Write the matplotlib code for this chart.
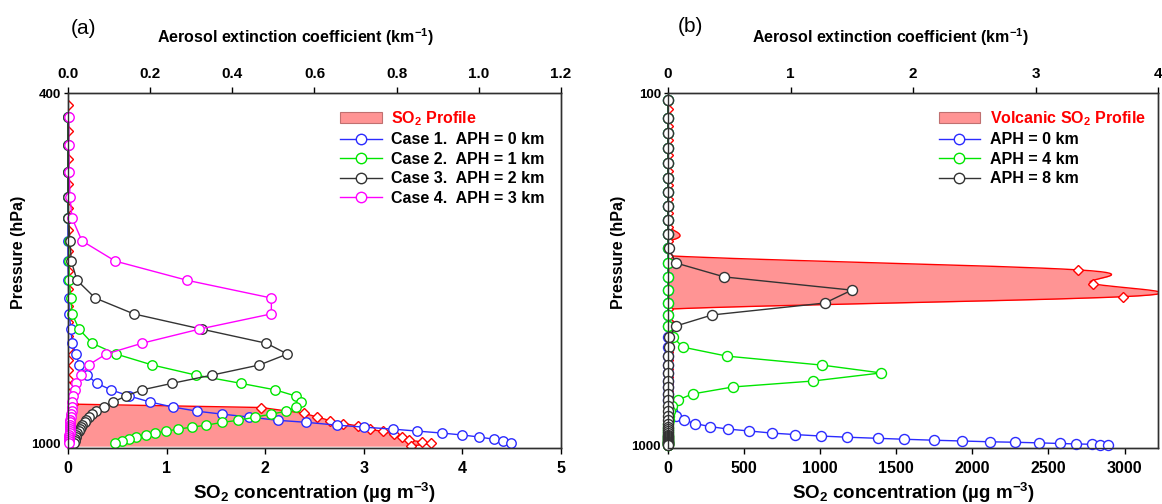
import numpy as np
import matplotlib
matplotlib.use('Agg')
import matplotlib.pyplot as plt
from matplotlib.patches import Patch
from matplotlib.lines import Line2D
from matplotlib.ticker import NullLocator, FormatStrFormatter

plt.rcParams['font.family'] = ['Liberation Sans', 'DejaVu Sans']
plt.rcParams['font.weight'] = 'bold'
plt.rcParams['axes.labelweight'] = 'bold'
plt.rcParams['mathtext.default'] = 'regular'

# ---- panel (a): aerosol extinction (km-1) on model levels (hPa)
p_aer_a = [426, 458, 492, 525, 555, 589, 621, 653, 684, 713, 742, 770, 792, 815, 837,
           855, 870, 884, 898, 910, 920, 927, 934, 942, 947, 954, 959, 964, 969, 974,
           979, 984, 990, 995, 1000]
case1 = [0, 0, 0, 0, 0, 0, 0, 0.001, 0.002, 0.003, 0.007, 0.010, 0.020, 0.027, 0.046,
         0.070, 0.105, 0.149, 0.200, 0.256, 0.315, 0.376, 0.441, 0.510, 0.580, 0.654,
         0.720, 0.790, 0.850, 0.910, 0.960, 1.000, 1.037, 1.060, 1.078]
case2 = [0, 0, 0, 0, 0.001, 0.002, 0.002, 0.003, 0.007, 0.010, 0.027, 0.059, 0.117,
         0.205, 0.312, 0.420, 0.505, 0.554, 0.568, 0.556, 0.530, 0.495, 0.456, 0.415,
         0.376, 0.337, 0.302, 0.268, 0.239, 0.212, 0.190, 0.166, 0.149, 0.132, 0.115]
case3 = [0, 0, 0, 0, 0.001, 0.005, 0.008, 0.022, 0.066, 0.160, 0.325, 0.483, 0.534,
         0.466, 0.350, 0.254, 0.180, 0.141, 0.110, 0.088, 0.068, 0.058, 0.051, 0.044,
         0.041, 0.034, 0.032, 0.029, 0.027, 0.022, 0.020, 0.019, 0.017, 0.017, 0.015]
case4 = [0.002, 0.002, 0.003, 0.005, 0.010, 0.034, 0.115, 0.290, 0.495, 0.495, 0.320,
         0.180, 0.093, 0.050, 0.032, 0.020, 0.016, 0.013, 0.011, 0.010, 0.009, 0.008,
         0.007, 0.006, 0.006, 0.005, 0.005, 0.004, 0.004, 0.004, 0.003, 0.003, 0.003,
         0.003, 0.003]

# SO2 profile (ug m-3), layer centres
p_so2_a = [413, 442, 475, 508, 540, 572, 605, 637, 668, 699, 728, 756, 781, 804, 826,
           846, 862, 877, 891, 903, 911, 925, 934, 943, 950, 956, 964, 970, 977, 984,
           992, 997, 1000, 1008]
so2_a = [0, 0, 0, 0, 0, 0, 0, 0, 0, 0, 0, 0, 0, 0, 0, 0, 0, 0, 0,
         0.05, 1.96, 2.39, 2.53, 2.66, 2.79, 2.94, 3.06, 3.19, 3.31, 3.39, 3.46,
         3.59, 3.68, 3.48]

# ---- panel (b)
p_aer_b = [105, 118, 130, 143, 158, 174, 191, 209, 229, 252, 276, 304, 333, 363, 395,
           427, 459, 493, 527, 559, 593, 624, 658, 684, 716, 745, 775, 801, 827, 849,
           869, 886, 901, 912, 925, 934, 943, 950, 957, 963, 969, 974, 979, 982, 986,
           990, 993, 995, 998, 1000]
aph0 = [0, 0, 0, 0, 0, 0, 0, 0, 0, 0, 0, 0, 0, 0, 0, 0, 0, 0, 0, 0, 0, 0, 0, 0, 0, 0,
        0.015, 0.030, 0.065, 0.13, 0.22, 0.34, 0.49, 0.66, 0.85, 1.04, 1.25, 1.46,
        1.71, 1.93, 2.17, 2.40, 2.63, 2.83, 3.03, 3.20, 3.33, 3.46, 3.53, 3.59]
aph4 = [0, 0, 0, 0, 0, 0, 0, 0, 0, 0, 0, 0, 0, 0, 0, 0, 0, 0.04, 0.12, 0.48, 1.26,
        1.74, 1.18, 0.53, 0.20, 0.08, 0.03, 0.015, 0.008, 0.004, 0, 0, 0, 0, 0, 0, 0,
        0, 0, 0, 0, 0, 0, 0, 0, 0, 0, 0, 0, 0]
aph8 = [0, 0, 0, 0, 0, 0, 0, 0, 0, 0, 0.005, 0.065, 0.46, 1.50, 1.28, 0.36, 0.065,
        0.01, 0.005, 0, 0, 0, 0, 0, 0, 0, 0, 0, 0, 0, 0, 0, 0, 0, 0, 0, 0, 0, 0, 0,
        0, 0, 0, 0, 0, 0, 0, 0, 0, 0]

p_so2_b = [111, 124, 136, 150, 166, 183, 200, 219, 240, 263, 290, 318, 348, 379, 411,
           443, 476, 510, 543, 575, 608, 641, 671, 700, 731, 760, 788, 814, 838, 860,
           877, 895, 907, 919, 931, 943, 955, 968, 981, 993]
so2_b = [0, 0, 0, 0, 0, 0, 0, 0, 0, 0, 0, 2695, 2792, 2987, 0, 0, 0, 0, 0, 0, 0, 0,
         0, 0, 0, 0, 0, 0, 0, 0, 0, 0, 0, 0, 0, 0, 0, 0, 0, 0]

RED = '#ff0000'
FILL = '#ff9494'
COLORS = ['#2b2bff', '#00e600', '#333333', '#ff00ff']


def spline(p, x, num=16):
    # natural cubic spline of x against log10(p), like the spline line of the original
    t = np.log10(np.asarray(p, float))
    y = np.asarray(x, float)
    n = len(t)
    h = np.diff(t)
    A = np.zeros((n, n))
    r = np.zeros(n)
    A[0, 0] = A[-1, -1] = 1
    for i in range(1, n - 1):
        A[i, i - 1] = h[i - 1]
        A[i, i] = 2 * (h[i - 1] + h[i])
        A[i, i + 1] = h[i]
        r[i] = 6 * ((y[i + 1] - y[i]) / h[i] - (y[i] - y[i - 1]) / h[i - 1])
    m = np.linalg.solve(A, r)
    ts, ys = [], []
    for i in range(n - 1):
        s = np.linspace(t[i], t[i + 1], num, endpoint=(i == n - 2))
        a = t[i + 1] - s
        b = s - t[i]
        ys.append(m[i] * a**3 / (6 * h[i]) + m[i + 1] * b**3 / (6 * h[i])
                  + (y[i] / h[i] - m[i] * h[i] / 6) * a
                  + (y[i + 1] / h[i] - m[i + 1] * h[i] / 6) * b)
        ts.append(s)
    return 10**np.concatenate(ts), np.concatenate(ys)


def style_axes(ax, ax2, ylim, yticks):
    ax.set_yscale('log')
    ax.set_ylim(*ylim)
    ax.set_yticks(yticks)
    ax.set_yticklabels([str(v) for v in yticks])
    ax.yaxis.set_minor_locator(NullLocator())
    for a in (ax, ax2):
        for s in a.spines.values():
            s.set_linewidth(1.0)
            s.set_color('#303030')
    ax.tick_params(axis='x', direction='out', length=4, width=1, labelsize=11.5, pad=5)
    ax.tick_params(axis='y', direction='out', length=3, width=1, labelsize=9.5, pad=2)
    ax2.tick_params(axis='x', direction='out', length=4, width=1, labelsize=11, pad=5)
    ax.set_xlabel('SO$_2$ concentration (µg m$^{-3}$)', fontsize=13.5, labelpad=4)
    ax.set_ylabel('Pressure (hPa)', fontsize=11.5)
    ax.yaxis.set_label_coords(-0.085, 0.55)
    ax2.set_xlabel('Aerosol extinction coefficient (km$^{-1}$)', fontsize=11.5)


def legend(ax2, so2_label, labels):
    handles = [Patch(facecolor=FILL, edgecolor='#c07070', linewidth=0.8)]
    for c in COLORS[:len(labels)]:
        handles.append(Line2D([], [], color=c, lw=1.0, marker='o', ms=7.5,
                              mfc='white', mec=c, mew=1.0))
    leg = ax2.legend(handles, [so2_label] + labels, loc='upper left',
                     bbox_to_anchor=(0.552, 0.955), frameon=False, fontsize=11.5,
                     handlelength=2.6, handletextpad=0.6, labelspacing=0.28,
                     borderpad=0, borderaxespad=0)
    leg.get_texts()[0].set_color(RED)


fig = plt.figure(figsize=(11.62, 5.04), dpi=100)

# ---------------- (a)
ax = fig.add_axes([0.0585, 0.111, 0.4243, 0.7044])
ax2 = ax.twiny()
ax.fill_betweenx(p_so2_a, 0, so2_a, color=FILL, lw=0, zorder=1)
ax.plot(so2_a, p_so2_a, color=RED, lw=1.0, marker='D', ms=5, mfc='white',
        mec=RED, mew=1.0, zorder=2)
ax.set_xlim(0, 5)
ax.set_xticks([0, 1, 2, 3, 4, 5])
ax2.set_xlim(0, 1.2)
ax2.set_xticks([0, 0.2, 0.4, 0.6, 0.8, 1.0, 1.2])
ax2.xaxis.set_major_formatter(FormatStrFormatter('%.1f'))
for vals, c in zip([case1, case2, case3, case4], COLORS):
    ax2.plot(vals, p_aer_a, color=c, lw=1.0, marker='o', ms=6.8, mfc='white',
             mec=c, mew=1.0, clip_on=False)
style_axes(ax, ax2, (1013, 400), [400, 1000])
ax2.xaxis.set_label_coords(0.462, 1.141)
legend(ax2, 'SO$_2$ Profile', ['Case 1.  APH = 0 km', 'Case 2.  APH = 1 km',
                               'Case 3.  APH = 2 km', 'Case 4.  APH = 3 km'])
fig.text(83 / 1162, 1 - 28 / 504, '(a)', fontsize=15, fontweight='normal',
         ha='center', va='center')

# ---------------- (b)
bx = fig.add_axes([0.5749, 0.111, 0.4217, 0.7044])
bx2 = bx.twiny()
ps, xs = spline(p_so2_b, so2_b)
bx.fill_betweenx(ps, 0, xs, color=FILL, lw=0, zorder=1)
bx.plot(xs, ps, color=RED, lw=1.0, zorder=2)
bx.plot(so2_b, p_so2_b, ls='none', marker='D', ms=5, mfc='white', mec=RED,
        mew=1.0, zorder=3)
bx.set_xlim(0, 3220)
bx.set_xticks([0, 500, 1000, 1500, 2000, 2500, 3000])
bx2.set_xlim(0, 4)
bx2.set_xticks([0, 1, 2, 3, 4])
for vals, c in zip([aph0, aph4, aph8], COLORS[:3]):
    bx2.plot(vals, p_aer_b, color=c, lw=1.0, marker='o', ms=7.2, mfc='white',
             mec=c, mew=1.0, clip_on=False)
style_axes(bx, bx2, (1020, 100), [100, 1000])
bx.yaxis.set_label_coords(-0.085, 0.55)
bx2.xaxis.set_label_coords(0.453, 1.141)
legend(bx2, 'Volcanic SO$_2$ Profile', ['APH = 0 km', 'APH = 4 km', 'APH = 8 km'])
fig.text(690 / 1162, 1 - 27 / 504, '(b)', fontsize=15, fontweight='normal',
         ha='center', va='center')

fig.savefig('out.png', dpi=100)
